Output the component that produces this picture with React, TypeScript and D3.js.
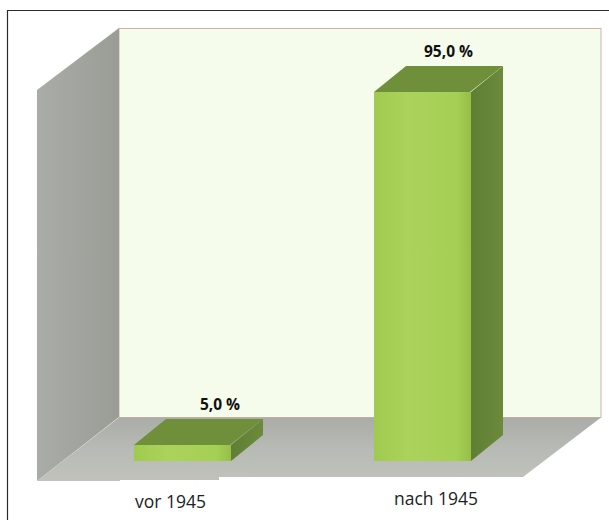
import React from "react";
import * as d3 from "d3";

const categories = ["vor 1945", "nach 1945"];
const values = [5.0, 95.0];
const valueLabels = ["5,0 %", "95,0 %"];

const W = 609, H = 520;
const dx = 32, dy = -26;

const x = d3.scalePoint<string>().domain(categories).range([182.5, 422.5]);
const xLabel = d3.scalePoint<string>().domain(categories).range([170.5, 436]);
const xValue = d3.scalePoint<string>().domain(categories).range([220, 448.5]);
const yLabel = d3.scalePoint<string>().domain(categories).range([508, 505]);
const y = d3.scaleLinear().domain([5, 95]).range([445, 92]);
const base = 461;
const barW = 97;

const poly = (pts: [number, number][]) => d3.line()(pts)! + "Z";

export default function App() {
  return (
    <svg width={W} height={H} style={{ position: "absolute", left: 0, top: 0, fontFamily: "'Open Sans', 'Noto Sans', sans-serif" }}>
      <defs>
        <linearGradient id="front" x1="0" x2="1" y1="0" y2="0">
          <stop offset="0" stopColor="#a0ca4f" />
          <stop offset="0.35" stopColor="#abd35c" />
          <stop offset="0.85" stopColor="#a6cf55" />
          <stop offset="1" stopColor="#97bf48" />
        </linearGradient>
        <linearGradient id="wall" x1="0" x2="1" y1="0" y2="0">
          <stop offset="0" stopColor="#aaada7" />
          <stop offset="1" stopColor="#999d96" />
        </linearGradient>
        <linearGradient id="side" x1="0" x2="1" y1="0" y2="0">
          <stop offset="0" stopColor="#5f7f33" />
          <stop offset="1" stopColor="#6b8a3c" />
        </linearGradient>
        <linearGradient id="floor" x1="0" x2="0" y1="0" y2="1">
          <stop offset="0" stopColor="#a9aca7" />
          <stop offset="0.5" stopColor="#b8bab5" />
          <stop offset="1" stopColor="#c0c2bb" />
        </linearGradient>
      </defs>
      <rect width={W} height={H} fill="#fff" />
      {/* back wall */}
      <rect x={119} y={28.5} width={482} height={389} fill="#f5fcec" stroke="#d3b0a6" strokeWidth={1} />
      {/* left wall */}
      <path d={poly([[37, 90], [119, 28], [119, 417], [37, 481]])} fill="url(#wall)" />
      {/* floor */}
      <path d={poly([[37, 481], [119, 417.5], [601, 417.5], [523, 477], [219, 477], [219, 480], [120, 480], [120, 481]])} fill="url(#floor)" />
      {/* frame: top and left rules only */}
      <path d={`M7.5,${H}V10.5H${W}`} fill="none" stroke="#2b2b2b" strokeWidth={1.2} />
      {categories.map((c, i) => {
        const cx = x(c)!;
        const x0 = cx - barW / 2, x1 = cx + barW / 2;
        const yTop = y(values[i]);
        return (
          <g key={c}>
            <path d={poly([[x0, yTop], [x1 - 1, yTop], [x1 + dx, yTop + dy], [x0 + dx, yTop + dy]])} fill="#6f8f3a" />
            <path d={poly([[x1, yTop], [x1 + dx, yTop + dy], [x1 + dx, base + dy], [x1, base]])} fill="url(#side)" />
            <rect x={x0} y={yTop} width={barW} height={base - yTop} fill="url(#front)" />
            <text x={xValue(c)!} y={yTop + dy + (i === 0 ? -9 : -9)} textAnchor="middle" fontSize={15.5} fontWeight={700} fill="#111">{valueLabels[i]}</text>
            <text x={xLabel(c)!} y={yLabel(c)!} textAnchor="middle" fontSize={17.5} fill="#222">{c}</text>
          </g>
        );
      })}
    </svg>
  );
}
